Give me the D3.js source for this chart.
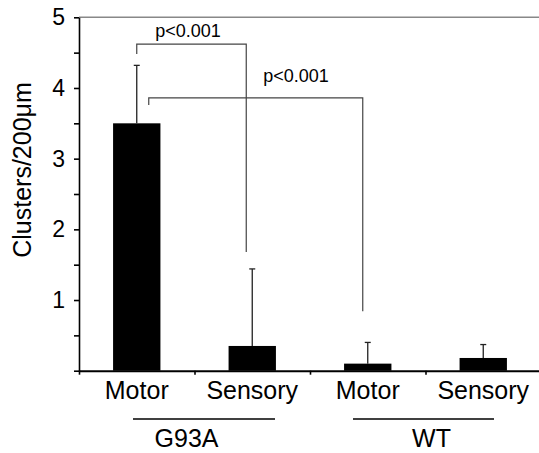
<!DOCTYPE html>
<html>
<head>
<meta charset="utf-8">
<script src="https://cdn.jsdelivr.net/npm/d3@7"></script>
<style>
  body { margin: 0; background: #fff; }
  text { font-family: "Liberation Sans", Arial, sans-serif; fill: #000; }
</style>
</head>
<body>
<svg width="539" height="453"></svg>
<script>
// data
let categories = ["G93A Motor", "G93A Sensory", "WT Motor", "WT Sensory"];
let barLabels = ["Motor", "Sensory", "Motor", "Sensory"];
let means = [3.5, 0.35, 0.1, 0.18];
let errTop = [4.32, 1.44, 0.4, 0.37];
let groups = ["G93A", "WT"];
let yTicks = [0, 0.5, 1, 1.5, 2, 2.5, 3, 3.5, 4, 4.5, 5];
let pLabels = ["p<0.001", "p<0.001"];

let chartW = 539;
let chartH = 453;
let plotLeft = 79, plotRight = 541, plotTop = 17.3, plotBottom = 370.7;

let svg = d3.select("svg");

let x = d3.scaleBand()
  .domain(categories)
  .range([plotLeft, plotRight])
  .padding(0);

let y = d3.scaleLinear()
  .domain([0, 5])
  .range([plotBottom, plotTop]);

let bw = x.bandwidth();
let barW = bw * 0.41;
let cx = (c) => x(c) + bw / 2;

// top frame line
svg.append("line")
  .attr("x1", plotLeft).attr("x2", chartW)
  .attr("y1", y(5)).attr("y2", y(5))
  .attr("stroke", "#888").attr("stroke-width", 1.5);

// bars
svg.selectAll(".bar")
  .data(categories)
  .enter()
  .append("rect")
  .attr("class", "bar")
  .attr("x", (d) => cx(d) - barW / 2)
  .attr("width", barW)
  .attr("y", (d, i) => y(means[i]))
  .attr("height", (d, i) => y(0) - y(means[i]))
  .attr("fill", "#000");

// error bars
let eb = svg.selectAll(".err")
  .data(categories)
  .enter()
  .append("g")
  .attr("class", "err")
  .attr("stroke", "#222")
  .attr("stroke-width", 1.3);

eb.append("line")
  .attr("x1", (d) => cx(d)).attr("x2", (d) => cx(d))
  .attr("y1", (d, i) => y(means[i]))
  .attr("y2", (d, i) => y(errTop[i]));

eb.append("line")
  .attr("x1", (d) => cx(d) - 3).attr("x2", (d) => cx(d) + 3)
  .attr("y1", (d, i) => y(errTop[i]))
  .attr("y2", (d, i) => y(errTop[i]));

// y axis
let yAxis = d3.axisLeft(y)
  .tickValues(yTicks)
  .tickSizeInner(5)
  .tickSizeOuter(0)
  .tickPadding(9)
  .tickFormat((d) => (d > 0 && Number.isInteger(d)) ? d : "");

let ya = svg.append("g")
  .attr("transform", "translate(" + plotLeft + ",0)")
  .call(yAxis);
ya.select(".domain").attr("stroke", "#000").attr("stroke-width", 1.6);
ya.selectAll(".tick line").attr("stroke", "#000").attr("stroke-width", 1.6);
ya.selectAll("text").style("font-size", "23px");

svg.append("text")
  .attr("transform", "translate(31,170) rotate(-90)")
  .attr("text-anchor", "middle")
  .style("font-size", "25px")
  .text("Clusters/200μm");

// x axis: labels under band centres
let xAxis = d3.axisBottom(x)
  .tickSize(0)
  .tickPadding(10.5)
  .tickFormat((d, i) => barLabels[i]);

let xa = svg.append("g")
  .attr("transform", "translate(0," + plotBottom + ")")
  .call(xAxis);
xa.select(".domain").remove();
xa.selectAll("text").style("font-size", "25px");

// x axis line with ticks at band edges
let xEdge = d3.scaleLinear().domain([0, 4]).range([plotLeft, plotRight]);
let xa2 = svg.append("g")
  .attr("transform", "translate(0," + plotBottom + ")")
  .call(d3.axisBottom(xEdge).tickValues([0, 1, 2, 3]).tickSizeInner(4).tickSizeOuter(0).tickFormat(""));
xa2.select(".domain").attr("stroke", "#000").attr("stroke-width", 2);
xa2.selectAll(".tick line").attr("stroke", "#000").attr("stroke-width", 1.6);

// group lines and labels
let groupInset = [[54, 35], [43, 47]];
let groupLabelShift = [-8, 6];
groups.forEach((g, i) => {
  let x0 = x(categories[i * 2]);
  let x1 = x(categories[i * 2 + 1]) + bw;
  svg.append("line")
    .attr("x1", x0 + groupInset[i][0]).attr("x2", x1 - groupInset[i][1])
    .attr("y1", 419).attr("y2", 419)
    .attr("stroke", "#000").attr("stroke-width", 1.5);
  svg.append("text")
    .attr("x", (x0 + x1) / 2 + groupLabelShift[i])
    .attr("y", 447)
    .attr("text-anchor", "middle")
    .style("font-size", "25px")
    .text(g);
});

// significance brackets
let brackets = [
  { a: 0, b: 1, dxA: 0, dxB: -6, yTop: 4.62, yA: 4.48, yB: 1.68, lx: 188, ly: 36.7 },
  { a: 0, b: 2, dxA: 12, dxB: -5, yTop: 3.86, yA: 3.76, yB: 0.84, lx: 296, ly: 81.5 }
];
brackets.forEach((k, i) => {
  let xA = cx(categories[k.a]) + k.dxA;
  let xB = cx(categories[k.b]) + k.dxB;
  svg.append("path")
    .attr("d", "M" + xA + "," + y(k.yA) + "V" + y(k.yTop) + "H" + xB + "V" + y(k.yB))
    .attr("fill", "none")
    .attr("stroke", "#444")
    .attr("stroke-width", 1.2);
  svg.append("text")
    .attr("x", k.lx)
    .attr("y", k.ly)
    .attr("text-anchor", "middle")
    .style("font-size", "18px")
    .text(pLabels[i]);
});
</script>
</body>
</html>
